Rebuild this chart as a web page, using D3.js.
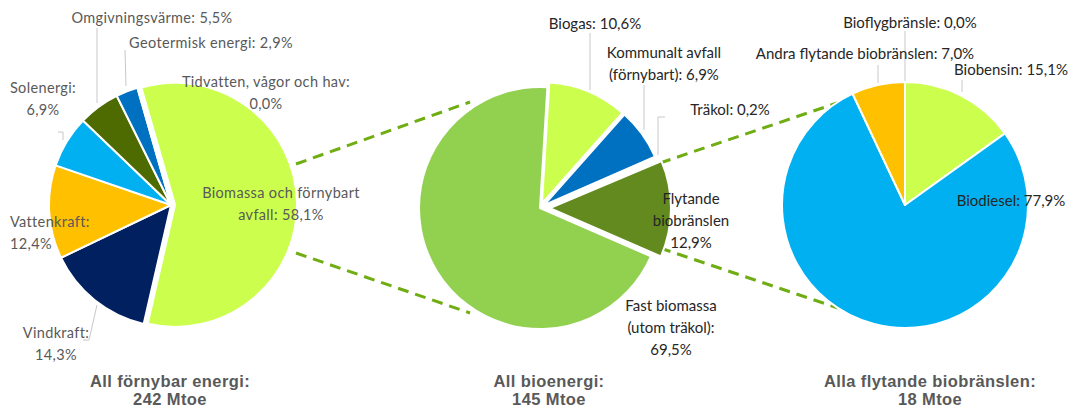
<!DOCTYPE html>
<html><head><meta charset="utf-8">
<script src="https://cdn.jsdelivr.net/npm/d3@7"></script>
<style>body{margin:0;background:#fff} svg{display:block}</style>
</head><body><svg id="c" width="1072" height="407"></svg>
<script>
// ---- data ----
const renewCats = ["Biomassa och förnybart avfall", "Vindkraft", "Vattenkraft", "Solenergi", "Omgivningsvärme", "Geotermisk energi", "Tidvatten, vågor och hav"];
const renewVals = [58.1, 14.3, 12.4, 6.9, 5.5, 2.9, 0.0];
const renewColors = ["#CCFF4D", "#002060", "#FFC000", "#00B0F0", "#4D6B00", "#0070C0", "#7F7F7F"];

const bioCats = ["Biogas", "Kommunalt avfall (förnybart)", "Träkol", "Flytande biobränslen", "Fast biomassa (utom träkol)"];
const bioVals = [10.6, 6.9, 0.2, 12.9, 69.5];
const bioColors = ["#CCFF4D", "#0070C0", "#00B0F0", "#628A1E", "#92D050"];

const liqCats = ["Biobensin", "Biodiesel", "Andra flytande biobränslen", "Bioflygbränsle"];
const liqVals = [15.1, 77.9, 7.0, 0.0];
const liqColors = ["#CCFF4D", "#00B0F0", "#FFC000", "#0070C0"];

const titles = ["All förnybar energi:", "All bioenergi:", "Alla flytande biobränslen:"];
const totals = [242, 145, 18];
const unit = "Mtoe";

// ---- helpers ----
const fmt = v => d3.format(".1f")(v).replace(".", ",") + "%";
const svg = d3.select("#c");
const rad = d => d * Math.PI / 180;

function labelLines(cat, val, breaks, dropColon) {
  const words = (cat + ": " + fmt(val)).split(" ");
  const lines = [];
  let prev = 0;
  (breaks || []).forEach(b => { lines.push(words.slice(prev, b).join(" ")); prev = b; });
  lines.push(words.slice(prev).join(" "));
  return dropColon ? lines.map((l, i) => (i < lines.length - 1 ? l.replace(/:$/, "") : l)) : lines;
}

const pies = [
  {cats: renewCats, vals: renewVals, colors: renewColors, cx: 171, cy: 205, r: 122, start: -16,
   explode: [4, 0, 0, 0, 0, 0, 0], color: "#595959", ls: 0.35, fs: 14.5, title: 0, tx: 170,
   labels: [
     {breaks: [3], x: 281, y: 198, anchor: "middle"},
     {breaks: [1], x: 56, y: 338, anchor: "middle"},
     {breaks: [1], x: 10, y: 227, anchor: "start"},
     {breaks: [1], x: 43, y: 93, anchor: "middle"},
     {breaks: [], x: 152, y: 23, anchor: "middle"},
     {breaks: [], x: 211, y: 48, anchor: "middle"},
     {breaks: [4], x: 266, y: 87, anchor: "middle"}
   ],
   leaders: [
     null,
     [[97, 305], [89, 340], [83, 340]],
     null,
     [[58, 132], [63, 132], [63, 140]],
     [[97, 28], [97, 103]],
     [[125, 50], [126, 86]],
     null
   ]},
  {cats: bioCats, vals: bioVals, colors: bioColors, cx: 540, cy: 208, r: 121, start: 3.5,
   explode: [5, 5, 5, 10, 0], color: "#262626", ls: 0, fs: 15, title: 1, tx: 549,
   labels: [
     {breaks: [], x: 595, y: 29, anchor: "middle"},
     {breaks: [2], x: 664, y: 58, anchor: "middle"},
     {breaks: [], x: 730, y: 115, anchor: "middle"},
     {breaks: [1, 2], x: 691, y: 204, anchor: "middle", dropColon: true},
     {breaks: [2, 4], x: 671, y: 311, anchor: "middle"}
   ],
   leaders: [
     [[590, 33], [590, 90]],
     [[644, 85], [644, 130]],
     [[665, 117], [658, 117], [658, 155]],
     null, null
   ]},
  {cats: liqCats, vals: liqVals, colors: liqColors, cx: 905, cy: 205, r: 123, start: 0,
   explode: [0, 0, 0, 0], color: "#262626", ls: 0, fs: 15, title: 2, tx: 930,
   labels: [
     {breaks: [], x: 1011, y: 75, anchor: "middle"},
     {breaks: [], x: 1011, y: 206, anchor: "middle"},
     {breaks: [], x: 865, y: 59, anchor: "middle"},
     {breaks: [], x: 910, y: 28, anchor: "middle"}
   ],
   leaders: [
     [[962, 80], [962, 92]],
     null,
     [[878, 65], [878, 83]],
     [[905, 31], [905, 81]]
   ]}
];

// ---- connectors (dashed) ----
const connectors = [
  [[296, 164], [470, 102]],
  [[296, 253], [470, 313]],
  [[660, 163], [837, 103]],
  [[660, 248], [838, 308]]
];
svg.append("g").selectAll("line").data(connectors).join("line")
  .attr("x1", d => d[0][0]).attr("y1", d => d[0][1])
  .attr("x2", d => d[1][0]).attr("y2", d => d[1][1])
  .attr("stroke", "#70AD12").attr("stroke-width", 3).attr("stroke-dasharray", "11,7");

const lineGen = d3.line();

pies.forEach(p => {
  const pie = d3.pie().sort(null).value(d => d)
    .startAngle(rad(p.start)).endAngle(rad(p.start) + 2 * Math.PI);
  const arcs = pie(p.vals);
  const arc = d3.arc().innerRadius(0).outerRadius(p.r);
  const g = svg.append("g").attr("transform", `translate(${p.cx},${p.cy})`);
  g.selectAll("path").data(arcs).join("path")
    .attr("d", arc)
    .attr("transform", (d, i) => {
      const a = (d.startAngle + d.endAngle) / 2;
      const e = p.explode[i];
      return `translate(${e * Math.sin(a)},${-e * Math.cos(a)})`;
    })
    .attr("fill", (d, i) => p.colors[i])
    .attr("stroke", "#fff").attr("stroke-width", 2).attr("stroke-linejoin", "round");

  // leader lines
  svg.append("g").selectAll("path").data(p.leaders.filter(l => l)).join("path")
    .attr("d", d => lineGen(d)).attr("fill", "none")
    .attr("stroke", "#C8C8C8").attr("stroke-width", 1);

  // labels
  const lg = svg.append("g").attr("font-family", "Lato, 'Open Sans', sans-serif")
    .attr("font-size", p.fs).attr("fill", p.color).attr("letter-spacing", p.ls);
  p.labels.forEach((L, i) => {
    const lines = labelLines(p.cats[i], p.vals[i], L.breaks, L.dropColon);
    const t = lg.append("text").attr("text-anchor", L.anchor);
    lines.forEach((s, k) => t.append("tspan").attr("x", L.x).attr("y", L.y + k * 22).text(s));
  });

  // title
  const tt = svg.append("text").attr("text-anchor", "middle")
    .attr("font-family", "'Liberation Sans', Arial, sans-serif").attr("font-weight", "bold")
    .attr("font-size", 16.5).attr("fill", "#595959").attr("letter-spacing", 0.4);
  tt.append("tspan").attr("x", p.tx).attr("y", 387).text(titles[p.title]);
  tt.append("tspan").attr("x", p.tx).attr("y", 405).text(totals[p.title] + " " + unit);
});
</script>
</body></html>
